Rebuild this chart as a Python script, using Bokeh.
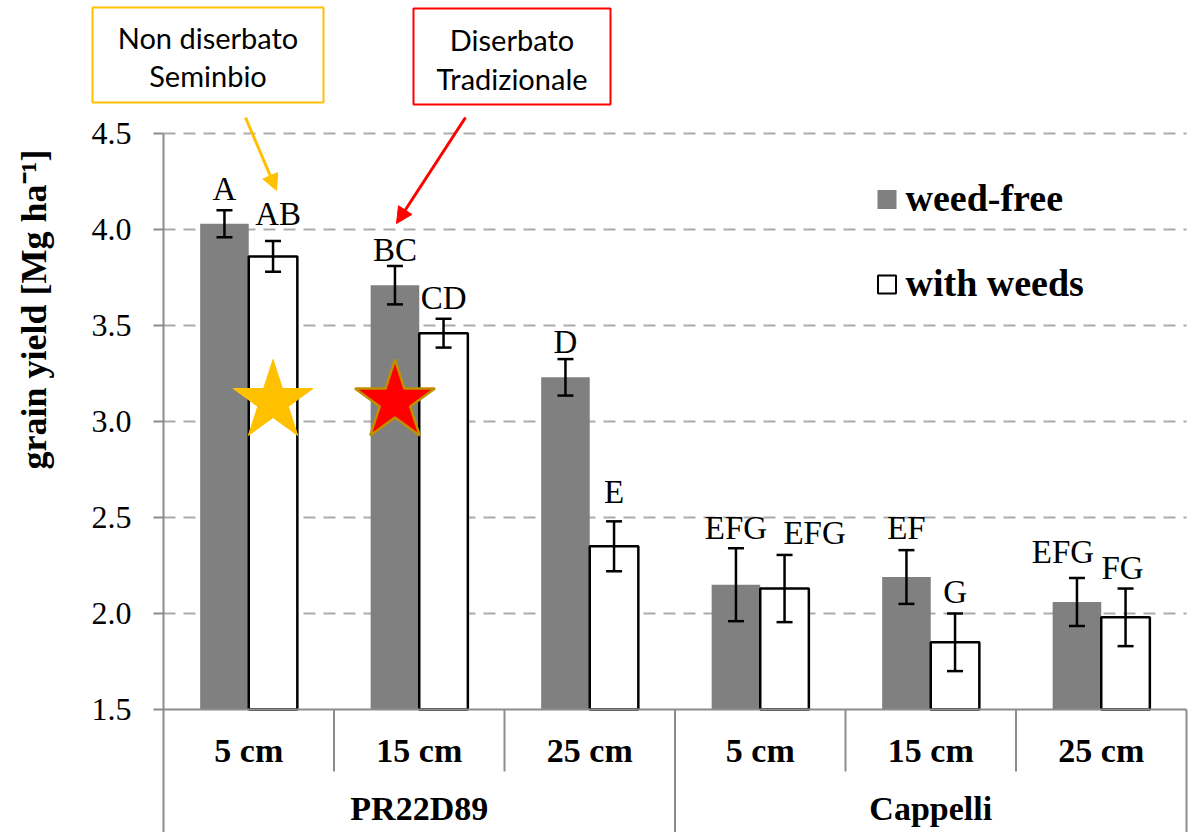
import numpy as np
from bokeh.plotting import figure
from bokeh.models import (Range1d, Whisker, TeeHead, ColumnDataSource, BoxAnnotation, Label,
                          Arrow, NormalHead)
from bokeh.core.properties import value
from bokeh.embed import file_html
from bokeh.resources import INLINE

# ---------------- data ----------------
varieties = ["PR22D89", "Cappelli"]
depths = ["5 cm", "15 cm", "25 cm"]
series_names = ["weed-free", "with weeds"]
weed_free = [4.03, 3.71, 3.23, 2.15, 2.19, 2.06]
weed_free_err = [0.07, 0.10, 0.095, 0.19, 0.14, 0.125]
with_weeds = [3.86, 3.46, 2.35, 2.13, 1.85, 1.98]
with_weeds_err = [0.08, 0.075, 0.13, 0.175, 0.15, 0.15]
weed_free_letters = ["A", "BC", "D", "EFG", "EF", "EFG"]
with_weeds_letters = ["AB", "CD", "E", "EFG", "G", "FG"]
y_ticks = [1.5, 2.0, 2.5, 3.0, 3.5, 4.0, 4.5]
y_label = "grain yield [Mg ha\u207b\u00b9]"
note_seminbio = ["Non diserbato", "Seminbio"]
note_tradizionale = ["Diserbato", "Tradizionale"]

# ---------------- layout / style (screen px) ----------------
W, H = 1201, 832
AXIS_PX = 163          # x pixel of the value axis
PX_PER_CAT = 170.5
PX_PER_UNIT = 192.0
TOP_TICK_PX = 133      # y pixel of the highest tick
SERIF = "Liberation Serif"
GRAY = "#808080"
AXIS_GRAY = "#8C8C8C"
GRID_GRAY = "#ABABAB"
BASE_K = 0.34          # renderer's alphabetic-baseline correction, in font sizes
LETTER_SIZE = 33
# letter label nudges (px): horizontal shift, gap above error bar
wf_dx = [0, 0, 0, 0, 0, -14]
wf_gap = [10, 5, 6, 9, 11, 15]
ww_dx = [5, 0, 0, 30, 0, -3]
ww_gap = [16, 10, 18, 11, 10, 9]

y_lo, y_hi = y_ticks[0], y_ticks[-1]
n = len(varieties) * len(depths)
x_start = -AXIS_PX / PX_PER_CAT
x_end = (W - AXIS_PX) / PX_PER_CAT
y_end = y_hi + TOP_TICK_PX / PX_PER_UNIT
y_start = y_hi - (H - TOP_TICK_PX) / PX_PER_UNIT


def X(sx):
    return (sx - AXIS_PX) / PX_PER_CAT


def Y(sy):
    return y_hi - (sy - TOP_TICK_PX) / PX_PER_UNIT


def YB(sy, size):
    """y for a text whose baseline should sit at pixel sy"""
    return Y(sy - BASE_K * size)


p = figure(width=W, height=H, x_range=Range1d(x_start, x_end), y_range=Range1d(y_start, y_end),
           output_backend="svg", toolbar_location=None, x_axis_location=None,
           y_axis_location=None, title=None,
           min_border_left=0, min_border_right=0, min_border_top=0, min_border_bottom=0)
p.outline_line_color = None
p.background_fill_color = "white"
p.border_fill_color = "white"
p.xgrid.visible = False
p.ygrid.visible = False

# ---------------- value axis (drawn through the scales) ----------------
grid_y = y_ticks[1:]
p.segment(x0=[0] * len(grid_y), x1=[n] * len(grid_y), y0=grid_y, y1=grid_y,
          line_color=GRID_GRAY, line_width=2, line_dash="12 8")
p.segment(x0=[0], x1=[0], y0=[y_start], y1=[y_hi], line_color=AXIS_GRAY, line_width=2)
p.segment(x0=[X(AXIS_PX - 10)] * len(y_ticks), x1=[0] * len(y_ticks), y0=y_ticks, y1=y_ticks,
          line_color=AXIS_GRAY, line_width=2)
p.text(x=[X(AXIS_PX - 32)] * len(y_ticks), y=y_ticks, text=["%.1f" % t for t in y_ticks],
       text_font=value(SERIF), text_font_size="32px", text_align="right",
       text_baseline="middle", text_color="black")
p.text(x=[X(33)], y=[Y(309)], text=[y_label], angle=np.pi / 2, text_font=value(SERIF),
       text_font_size="36px", text_font_style="bold", text_align="center",
       text_baseline="middle", text_color="black")

# ---------------- bars ----------------
pos = np.arange(n) + 0.5
BW = 0.285
wf = np.array(weed_free); wfe = np.array(weed_free_err)
ww = np.array(with_weeds); wwe = np.array(with_weeds_err)
src_wf = ColumnDataSource(dict(x=pos - BW / 2, top=wf, upper=wf + wfe, lower=wf - wfe,
                               letter=weed_free_letters, dx=wf_dx,
                               dy=[-(g + BASE_K * LETTER_SIZE) for g in wf_gap]))
src_ww = ColumnDataSource(dict(x=pos + BW / 2, top=ww, upper=ww + wwe, lower=ww - wwe,
                               letter=with_weeds_letters, dx=ww_dx,
                               dy=[-(g + BASE_K * LETTER_SIZE) for g in ww_gap]))

p.vbar(x="x", top="top", bottom=y_lo, width=BW, source=src_wf, fill_color=GRAY, line_color=None)
p.vbar(x="x", top="top", bottom=y_lo, width=BW, source=src_ww, fill_color="white",
       line_color="black", line_width=2.5)

for src in (src_wf, src_ww):
    wk = Whisker(base="x", upper="upper", lower="lower", source=src, dimension="height",
                 line_color="black", line_width=2.5, level="overlay",
                 upper_head=TeeHead(size=16, line_color="black", line_width=2.5),
                 lower_head=TeeHead(size=16, line_color="black", line_width=2.5))
    p.add_layout(wk)
    p.text(x="x", y="upper", text="letter", source=src, text_font=value(SERIF),
           text_font_size="%dpx" % LETTER_SIZE, text_align="center",
           text_baseline="alphabetic", x_offset="dx", y_offset="dy", text_color="black")

# ---------------- category axis (drawn) ----------------
p.segment(x0=[0], x1=[n], y0=[y_lo], y1=[y_lo], line_color=AXIS_GRAY, line_width=2)
inner = [k for k in range(1, n) if k % len(depths) != 0]
outer = [k for k in range(len(depths), n + 1, len(depths))]
p.segment(x0=inner, x1=inner, y0=y_lo, y1=Y(771), line_color=AXIS_GRAY, line_width=2)
p.segment(x0=outer, x1=outer, y0=y_lo, y1=y_start, line_color=AXIS_GRAY, line_width=2)

sub_labels = [d for _ in varieties for d in depths]
p.text(x=pos, y=YB(762, 34), text=sub_labels, text_font=value(SERIF), text_font_size="34px",
       text_font_style="bold", text_align="center", text_baseline="alphabetic", text_color="black")
grp_x = [pos[i * len(depths):(i + 1) * len(depths)].mean() for i in range(len(varieties))]
p.text(x=grp_x, y=YB(820, 34), text=varieties, text_font=value(SERIF), text_font_size="34px",
       text_font_style="bold", text_align="center", text_baseline="alphabetic", text_color="black")

# ---------------- legend (drawn) ----------------
p.scatter(x=[X(886.5)], y=[Y(199)], marker="square", size=19, fill_color=GRAY, line_color=None)
p.scatter(x=[X(886.5)], y=[Y(284)], marker="square", size=18, fill_color="white",
          line_color="black", line_width=2)
p.text(x=[X(905), X(905)], y=[YB(210, 38), YB(295, 38)], text=series_names,
       text_font=value(SERIF), text_font_size="38px", text_font_style="bold",
       text_align="left", text_baseline="alphabetic", text_color="black")

# ---------------- stars ----------------
p.scatter(x=[pos[0] + BW / 2], y=[Y(401)], marker="star", size=84,
          fill_color="#FFC000", line_color="#FFC000", line_width=1)
p.scatter(x=[pos[1] - BW / 2], y=[Y(401)], marker="star", size=84,
          fill_color="#FF0000", line_color="#BF9000", line_width=2.5)

# ---------------- note boxes + arrows ----------------
p.add_layout(BoxAnnotation(left=X(92), right=X(323), top=Y(7), bottom=Y(102),
                           fill_color="white", fill_alpha=1.0, line_color="#FFC000",
                           line_alpha=1.0, line_width=2, level="overlay"))
p.add_layout(BoxAnnotation(left=X(413), right=X(610), top=Y(8), bottom=Y(104),
                           fill_color="white", fill_alpha=1.0, line_color="#FF0000",
                           line_alpha=1.0, line_width=2, level="overlay"))
for cx, lines, ys in ((207.5, note_seminbio, (47, 85)), (511.5, note_tradizionale, (49, 88))):
    for sy, t in zip(ys, lines):
        p.add_layout(Label(x=X(cx), y=YB(sy, 29), text=t, text_align="center",
                           text_baseline="alphabetic", text_font="Lato",
                           text_font_size="29px", text_color="black", level="overlay"))

p.add_layout(Arrow(end=NormalHead(size=16, fill_color="#FFC000", line_color="#FFC000"),
                   x_start=X(245), y_start=Y(117), x_end=X(276), y_end=Y(190),
                   line_color="#FFC000", line_width=3))
p.add_layout(Arrow(end=NormalHead(size=16, fill_color="#FF0000", line_color="#FF0000"),
                   x_start=X(465), y_start=Y(117), x_end=X(396), y_end=Y(223),
                   line_color="#FF0000", line_width=3))

open("out.html", "w").write(file_html(p, INLINE))
